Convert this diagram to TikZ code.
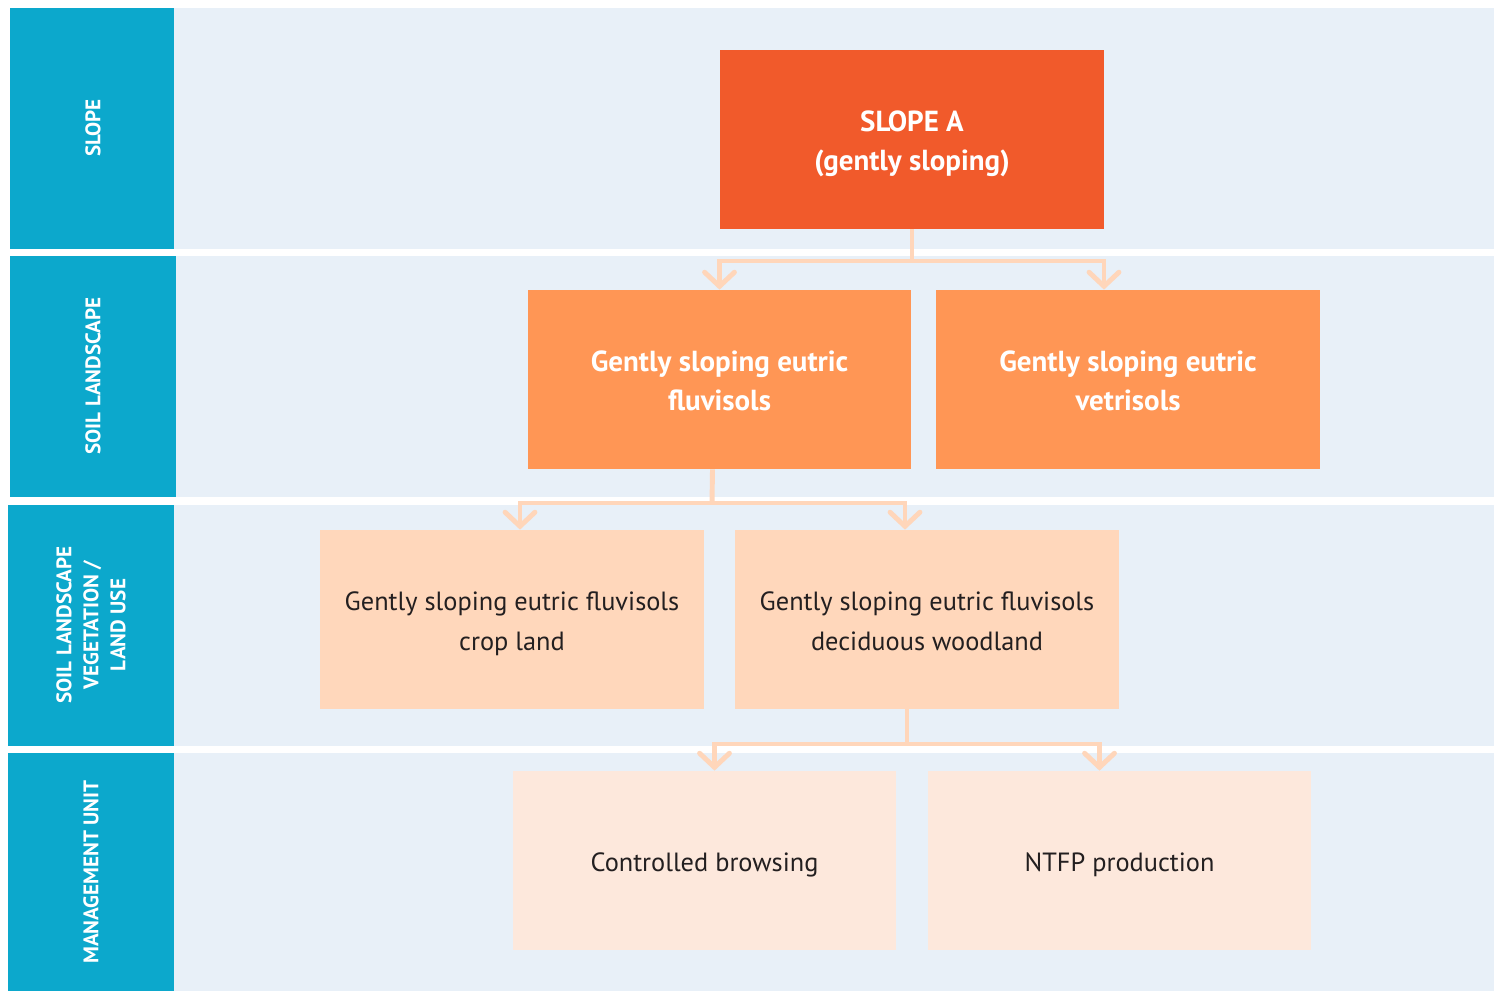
\documentclass[tikz,border=0pt]{standalone}
\usepackage{fontspec}
\setmainfont{PT Sans}
\usetikzlibrary{arrows.meta,positioning,calc}
\definecolor{bandblue}{HTML}{0CA8CC}
\definecolor{bandbg}{HTML}{E8F0F8}
\definecolor{slopec}{HTML}{F15A2B}
\definecolor{soilc}{HTML}{FF9655}
\definecolor{usec}{HTML}{FFD7BB}
\definecolor{unitc}{HTML}{FDE8DC}
\definecolor{linkc}{HTML}{FFD6BA}
\definecolor{darktext}{HTML}{231F20}

\begin{document}
\begin{tikzpicture}[x=0.02cm,y=-0.02cm,
    tag/.style={rotate=90,text=white,align=center,font=\fontsize{12}{15.3}\selectfont\bfseries},
    box/.style={minimum width=7.68cm,minimum height=3.58cm,inner sep=0pt,align=center,
        font=\fontsize{15}{22.7}\selectfont,
        execute at begin node=\rule{0pt}{17.6pt},execute at end node=\rule[-5.1pt]{0pt}{5.1pt}},
    twoline/.style={text height=37.1pt,text depth=2.3pt},
    boldbox/.style={box,twoline,text height=38.1pt,text=white,font=\fontsize{16.5}{22.7}\selectfont\bfseries},
    link/.style={draw=linkc,line width=2.8pt},
    tip/.style={-{Straight Barb[length=8pt,width=17pt,line cap=round]}}]
    \useasboundingbox (0,0) rectangle (1494,991);
    % Draw bands
    \fill[bandbg] (174,8) rectangle (1494,249);
    \fill[bandbg] (176,256) rectangle (1494,497);
    \fill[bandbg] (174,505) rectangle (1494,746);
    \fill[bandbg] (174,753) rectangle (1494,991);
    \fill[bandblue] (10,8) rectangle (174,249);
    \fill[bandblue] (10,256) rectangle (176,497);
    \fill[bandblue] (8,505) rectangle (174,746);
    \fill[bandblue] (8,753) rectangle (174,991);
    % Draw band labels
    \node[tag] (tslope) at (93,128) {SLOPE};
    \node[tag] (tsoil) at (93,376) {SOIL LANDSCAPE};
    \node[tag] (tuse) at (91,625) {SOIL LANDSCAPE\\VEGETATION /\\LAND USE};
    \node[tag] (tunit) at (91,872) {MANAGEMENT UNIT};
    % Draw boxes
    \node[boldbox,fill=slopec] (slopeA) at (912,139.5) {SLOPE A\\(gently sloping)};
    \node[boldbox,fill=soilc] (fluvisols) at (719.5,379.5) {Gently sloping eutric\\fluvisols};
    \node[boldbox,fill=soilc] (vertisols) at (1128,379.5) {Gently sloping eutric\\vetrisols};
    \node[box,twoline,fill=usec,text=darktext] (cropland) at (512,619.5) {Gently sloping eutric fluvisols\\crop land};
    \node[box,twoline,fill=usec,text=darktext] (woodland) at (927,619.5) {Gently sloping eutric fluvisols\\deciduous woodland};
    \node[box,fill=unitc,text=darktext] (browsing) at (704.5,860.5) {Controlled browsing};
    \node[box,fill=unitc,text=darktext] (ntfp) at (1119.5,860.5) {NTFP production};
    % Draw connectors
    \coordinate (j1) at (912,261);
    \draw[link] (slopeA.south) -- (j1);
    \draw[link,tip] (j1) -| (fluvisols.north);
    \draw[link,tip] (j1) -| ($(vertisols.north)+(-24,0)$);
    \coordinate (j2) at (712,503);
    \draw[link] ($(fluvisols.south)+(-7,0)$) -- (j2);
    \draw[link,tip] (j2) -| ($(cropland.north)+(8,0)$);
    \draw[link,tip] (j2) -| ($(woodland.north)+(-22,0)$);
    \coordinate (j3) at (907,744);
    \draw[link] ($(woodland.south)+(-20,0)$) -- (j3);
    \draw[link,tip] (j3) -| ($(browsing.north)+(10,0)$);
    \draw[link,tip] (j3) -| ($(ntfp.north)+(-20,0)$);
\end{tikzpicture}
\end{document}
